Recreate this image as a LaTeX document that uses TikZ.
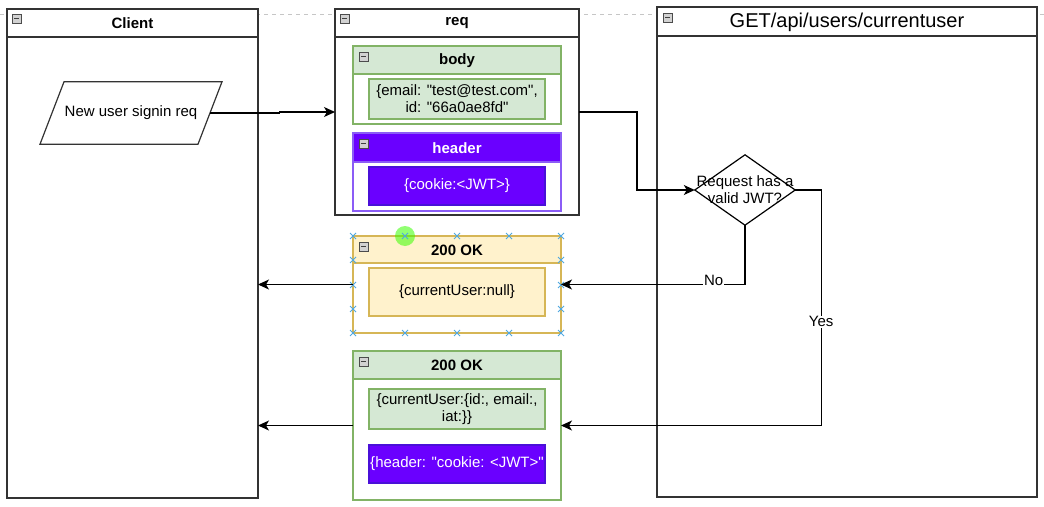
\documentclass[tikz,border=0pt]{standalone}
\usepackage{fontspec}
\setmainfont{Liberation Sans}[Ligatures=TeXOff]
\usetikzlibrary{arrows.meta,calc}
\definecolor{gfill}{HTML}{D5E8D4}
\definecolor{gline}{HTML}{82B366}
\definecolor{yfill}{HTML}{FFF2CC}
\definecolor{yline}{HTML}{D6B656}
\definecolor{pfill}{HTML}{6A00FF}
\definecolor{pline}{HTML}{4A10D8}
\definecolor{pedge}{HTML}{8B5CF6}
\definecolor{dline}{HTML}{333333}
\definecolor{handle}{HTML}{4FA8E0}
\tikzset{
  cont/.style n args={3}{rectangle, inner sep=0pt, outer sep=0pt, anchor=north west,
    line width=1.2pt, draw=#3, fill=white,
    path picture={\fill[#2] (path picture bounding box.north west) rectangle ([yshift=-#1pt]path picture bounding box.north east);
      \draw[#3, line width=1.2pt] ([yshift=-#1pt]path picture bounding box.north west) -- ([yshift=-#1pt]path picture bounding box.north east);}},
  inbox/.style={rectangle, inner sep=0pt, outer sep=0pt, anchor=north west, line width=1.2pt, align=center},
  ttl/.style={inner sep=0pt, font=\fontsize{15}{17}\selectfont\bfseries},
  arr/.style={line width=1.2pt, -{Stealth[length=11pt,width=10pt,inset=3pt]}},
  lbl/.style={fill=white, inner sep=1pt},
  minim/.pic={\draw[fill=gray!35, draw=gray!60!black, line width=0.6pt] (0,0) rectangle (9,9);
    \draw[line width=1.2pt, black!75] (2,4.5) -- (7,4.5);},
  hx/.pic={\draw[handle, line width=0.9pt] (-3,-3) -- (3,3) (-3,3) -- (3,-3);}
}
\begin{document}
\begin{tikzpicture}[x=1pt,y=-1pt, font=\fontsize{15}{17}\selectfont]
\useasboundingbox[fill=white] (0,0) rectangle (1044,506);
\draw[gray!45, line width=0.8pt, dash pattern=on 4pt off 4pt] (0,14) -- (1044,14);

% Client
\node[cont={28}{white}{dline}, minimum width=251pt, minimum height=489pt] (client) at (7,9) {};
\node[ttl] (clientT) at ($(client.north)+(0,14)$) {Client};
\pic at ($(client.north west)+(5,5)$) {minim};
\node[rectangle, minimum width=158pt, minimum height=62pt, inner sep=0pt] (para) at (131,113) {New user signin req};
\draw[line width=1.2pt, dline] ($(para.north)+(-67,0)$) -- ($(para.north)+(91,0)$) -- ($(para.south)+(67,0)$) -- ($(para.south)+(-91,0)$) -- cycle;

% req
\node[cont={28}{white}{dline}, minimum width=244pt, minimum height=206pt] (req) at (335,9) {};
\node[ttl] (reqT) at ($(req.north)+(0,14)$) {req};
\pic at ($(req.north west)+(5,5)$) {minim};

\node[cont={28}{gfill}{gline}, minimum width=208pt, minimum height=78pt] (body) at (353,46) {};
\node[ttl] (bodyT) at ($(body.north)+(0,14.5)$) {body};
\pic at ($(body.north west)+(6,6)$) {minim};
\node[inbox, fill=gfill, draw=gline, minimum width=176pt, minimum height=40pt] (bodyin) at (369,79) {\{email: "test@test.com",\\id: "66a0ae8fd"};

\node[cont={29}{pfill}{pedge}, minimum width=208pt, minimum height=78pt] (hdr) at (353,133) {};
\node[ttl, text=white] (hdrT) at ($(hdr.north)+(0,15)$) {header};
\pic at ($(hdr.north west)+(6,6)$) {minim};
\node[inbox, fill=pfill, draw=pline, text=white, minimum width=176pt, minimum height=38pt] (hdrin) at (369,167) {\{cookie:<JWT>\}};

% 200 OK (null)
\node[cont={27}{yfill}{yline}, minimum width=208pt, minimum height=97pt] (ok1) at (353,236) {};
\node[ttl] (ok1T) at ($(ok1.north)+(0,14)$) {200 OK};
\pic at ($(ok1.north west)+(6,6)$) {minim};
\node[inbox, fill=yfill, draw=yline, minimum width=176pt, minimum height=48pt] (ok1in) at (369,268) {\{currentUser:null\}};

% 200 OK (user)
\node[cont={28}{gfill}{gline}, minimum width=208pt, minimum height=149pt] (ok2) at (353,351) {};
\node[ttl] (ok2T) at ($(ok2.north)+(0,14.5)$) {200 OK};
\pic at ($(ok2.north west)+(6,6)$) {minim};
\node[inbox, fill=gfill, draw=gline, minimum width=176pt, minimum height=40pt] (ok2in) at (369,389) {\{currentUser:\{id:, email:,\\iat:\}\}};
\node[inbox, fill=pfill, draw=pline, text=white, minimum width=176pt, minimum height=38pt] (ok2hd) at (369,445) {\{header: "cookie: <JWT>"};

% GET
\node[cont={29}{white}{dline}, minimum width=380pt, minimum height=490pt] (get) at (657,7) {};
\node[inner sep=0pt, font=\fontsize{20}{24}\selectfont] (getT) at ($(get.north)+(0,15)$) {GET/api/users/currentuser};
\pic at ($(get.north west)+(6,6)$) {minim};

\node[rectangle, minimum width=100pt, minimum height=70pt, inner sep=0pt, align=center] (dia) at (745,190) {Request has a\\valid JWT?};
\draw[line width=1.2pt, black] (dia.north) -- (dia.east) -- (dia.south) -- (dia.west) -- cycle;

% selection handles
\fill[green!70!lime, opacity=0.55] (405,236) circle (10);
\foreach \hxx in {353,405,457,509,561} {\pic at (\hxx,236) {hx}; \pic at (\hxx,333) {hx};}
\foreach \hyy in {260,285,309} {\pic at (353,\hyy) {hx}; \pic at (561,\hyy) {hx};}

% connectors
\draw[arr] (para.east) -- ++(69,0) |- (req.west);
\draw[arr] (req.east) -- ++(58,0) |- (dia.west);
\draw[arr] (dia.south) |- node[lbl, pos=0.585, yshift=4pt] {No} (ok1.east);
\draw[arr] (dia.east) -- ++(26,0) |- node[lbl, pos=0.28] {Yes} (ok2.east);
\draw[arr] (ok1.west) -- (ok1.west -| client.east);
\draw[arr] (ok2.west) -- (ok2.west -| client.east);
\end{tikzpicture}
\end{document}
